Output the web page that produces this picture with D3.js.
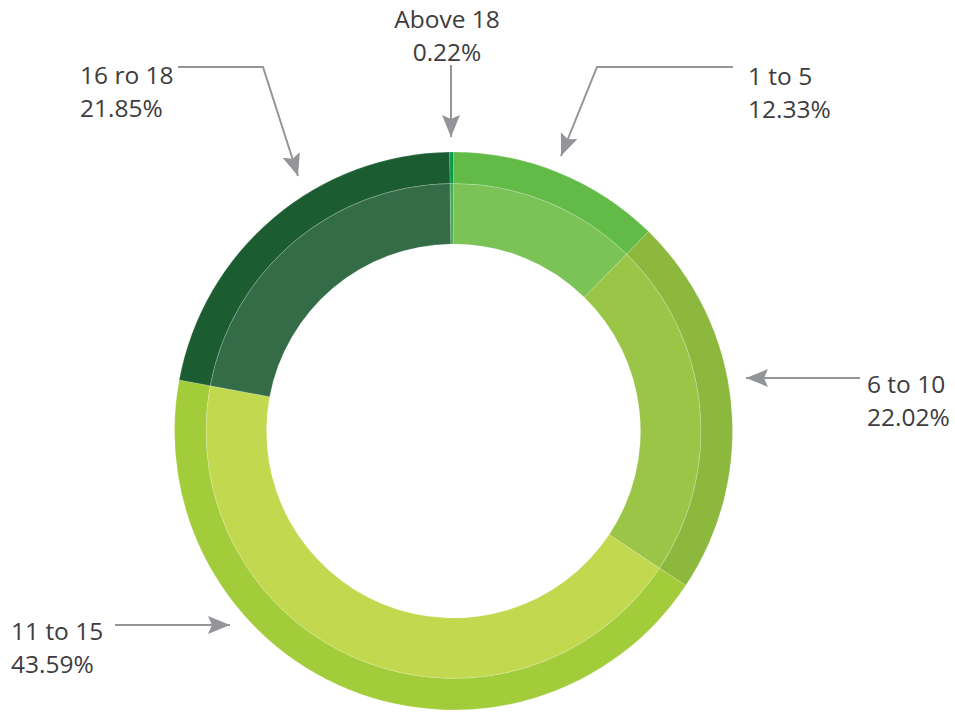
<!DOCTYPE html>
<html>
<head>
<meta charset="utf-8">
<script src="https://cdn.jsdelivr.net/npm/d3@7"></script>
<style>
html,body{margin:0;padding:0;background:#fff;}
svg{display:block;}
</style>
</head>
<body>
<svg id="chart" width="955" height="713"></svg>
<script>
// Data
const categories = ["1 to 5", "6 to 10", "11 to 15", "16 ro 18", "Above 18"];
const values = [12.33, 22.02, 43.59, 21.85, 0.22];
const valueLabels = ["12.33%", "22.02%", "43.59%", "21.85%", "0.22%"];
const outerColors = ["#62bb47", "#8cb83e", "#a2cc3a", "#1b5c30", "#0b9a4a"];
const innerColors = ["#7bc257", "#9ac546", "#c2d94f", "#336c46", "#45ad55"];

// Layout
const cx = 453.5, cy = 431;
const rOuter = 279, rSplit = 247.5, rHole = 187;
const textColor = "#3d3c3e";
const arrowColor = "#939598";

// annotation layout (label position, anchor, arrow path ending at tip)
const annotations = [
  {x: 748, y: 85, anchor: "start", path: [[733,67],[597,67],[561,156]]},
  {x: 867, y: 393, anchor: "start", path: [[860,378],[746,378]]},
  {x: 11, y: 640, anchor: "start", path: [[115,625],[230,625]]},
  {x: 80, y: 84, anchor: "start", path: [[178,67],[263,67],[298,176]]},
  {x: 447, y: 28, anchor: "middle", path: [[451,65],[451,137]]}
];

const svg = d3.select("#chart");

const pie = d3.pie().sort(null).value(d => d)
  .startAngle(0).endAngle(2 * Math.PI);
const arcsData = pie(values);

const arcOuter = d3.arc().innerRadius(rSplit).outerRadius(rOuter);
const arcInner = d3.arc().innerRadius(rHole).outerRadius(rSplit);

const g = svg.append("g").attr("transform", `translate(${cx},${cy})`);

g.selectAll("path.inner").data(arcsData).enter().append("path")
  .attr("class", "inner")
  .attr("d", arcInner)
  .attr("fill", (d, i) => innerColors[i])
  .attr("stroke", "rgba(255,255,255,0.22)")
  .attr("stroke-width", 0.8);

g.selectAll("path.outer").data(arcsData).enter().append("path")
  .attr("class", "outer")
  .attr("d", arcOuter)
  .attr("fill", (d, i) => outerColors[i])
  .attr("stroke", "rgba(255,255,255,0.22)")
  .attr("stroke-width", 0.8);

// arrow marker (tip at path end)
const defs = svg.append("defs");
defs.append("marker")
  .attr("id", "arrowhead")
  .attr("viewBox", "0 0 22 18")
  .attr("refX", 22)
  .attr("refY", 9)
  .attr("markerWidth", 22)
  .attr("markerHeight", 18)
  .attr("markerUnits", "userSpaceOnUse")
  .attr("orient", "auto")
  .append("path")
  .attr("d", "M0,0 L22,9 L0,18 L4,9 Z")
  .attr("fill", arrowColor);

const line = d3.line();
annotations.forEach((a, i) => {
  svg.append("path")
    .attr("d", line(a.path))
    .attr("fill", "none")
    .attr("stroke", arrowColor)
    .attr("stroke-width", 2)
    .attr("marker-end", "url(#arrowhead)");
  const t = svg.append("text")
    .attr("x", a.x)
    .attr("y", a.y)
    .attr("text-anchor", a.anchor)
    .attr("fill", textColor)
    .style("font-family", "'Open Sans', 'Noto Sans', sans-serif")
    .style("font-size", "24.5px");
  t.append("tspan").attr("x", a.x).text(categories[i]);
  t.append("tspan").attr("x", a.x).attr("dy", 33).text(valueLabels[i]);
});
</script>
</body>
</html>
